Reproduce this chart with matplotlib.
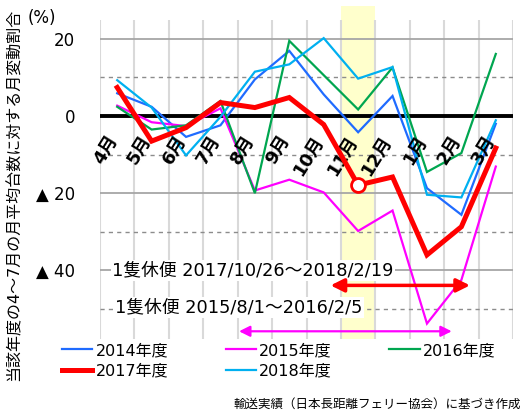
import numpy as np
import matplotlib
matplotlib.use('Agg')
import matplotlib.pyplot as plt
from matplotlib.lines import Line2D
from matplotlib.patches import Rectangle

plt.rcParams['font.family'] = ['DejaVu Sans', 'Noto Sans CJK JP']

# month categories (fiscal year order)
months = ['4月', '5月', '6月', '7月', '8月', '9月', '10月', '11月', '12月', '1月', '2月', '3月']

# monthly change ratio vs Apr-Jul average (%)
fy2014 = [5.9, 2.4, -5.4, -2.4, 9.5, 16.9, 5.6, -4.2, 5.2, -18.7, -25.6, -2.0]
fy2015 = [2.7, -1.6, -2.6, 2.0, -19.3, -16.5, -19.8, -29.8, -24.5, -53.8, -42.5, -13.1]
fy2016 = [2.4, -3.5, -2.4, 3.9, -20.0, 19.5, 10.6, 1.7, 12.6, -14.5, -9.6, 16.1]
fy2017 = [7.4, -6.5, -3.0, 3.5, 2.2, 4.8, -2.2, -17.9, -15.8, -36.0, -28.7, -8.3]
fy2018 = [9.3, 2.2, -10.2, -0.2, 11.5, 13.4, 20.2, 9.7, 12.7, -20.4, -21.1, -1.1]

series_names = ['2014年度', '2015年度', '2016年度', '2017年度', '2018年度']
series_vals = [fy2014, fy2015, fy2016, fy2017, fy2018]
series_cols = ['#1F6BFF', '#FF00FF', '#00A650', '#FF0000', '#00B0F0']
series_lw = [1.6, 1.6, 1.6, 3.6, 1.6]

ytick_vals = [-40, -20, 0, 20]
ytick_labels = ['▲ 40', '▲ 20', '0', '20']

# suspension periods (x in category units)
red_span = [6.2, 10.25]
mag_span = [3.54, 9.72]

fig = plt.figure(figsize=(5.24, 4.12), dpi=100)
ax = fig.add_axes([100/524, 1-339/412, 413/524, 319/412])

x = np.arange(len(months))
ax.set_xlim(-0.5, 11.5)
ax.set_ylim(-57.8, 24.9)

# highlight band for November
ax.add_patch(Rectangle((6.5, -57.8), 1, 86.3, facecolor='#FFFFCC', edgecolor='none',
                       zorder=0, clip_on=False))

# grid lines
for k in range(13):
    ax.axvline(k - 0.5, color='#D9D9D9', lw=1.5, zorder=1)
for yv in [20, -20, -40]:
    ax.axhline(yv, color='#A6A6A6', lw=1.3, zorder=1)
for yv in [10, -10, -30, -50]:
    ax.axhline(yv, color='#8C8C8C', lw=1.0, ls=(0, (3, 3)), zorder=1)
ax.axhline(0, color='black', lw=2.8, zorder=2)

# data lines
for name, vals, col, lw in zip(series_names, series_vals, series_cols, series_lw):
    z = 5 if name == '2017年度' else 3
    ax.plot(x, vals, color=col, lw=lw, zorder=z, solid_joinstyle='miter')

ax.plot(x[7], fy2017[7], 'o', ms=10, mfc='white', mec='red', mew=2, zorder=6)

# month labels inside the plot
for i, m in enumerate(months):
    ax.text(i + 0.12, -4.2, m, rotation=58, ha='right', va='top',
            fontsize=13, fontweight='bold', zorder=4)

# suspension texts and arrows
ax.text(-0.15, -40, '1隻休便 2017/10/26～2018/2/19', fontsize=12.8, va='center', ha='left',
        bbox=dict(facecolor='white', edgecolor='none', pad=1), zorder=2.5)
ax.text(-0.06, -49.6, '1隻休便 2015/8/1～2016/2/5', fontsize=12.8, va='center', ha='left',
        bbox=dict(facecolor='white', edgecolor='none', pad=1), zorder=2.5)
ax.annotate('', xy=(red_span[0], -43.9), xytext=(red_span[1], -43.9),
            arrowprops=dict(arrowstyle='<|-|>', color='red', lw=2.5, mutation_scale=20,
                            shrinkA=0, shrinkB=0), zorder=6)
ax.annotate('', xy=(mag_span[0], -55.8), xytext=(mag_span[1], -55.8),
            arrowprops=dict(arrowstyle='<|-|>', color='#FF00FF', lw=1.6, mutation_scale=16,
                            shrinkA=0, shrinkB=0), zorder=6)

ax.set_xticks([])
ax.set_yticks(ytick_vals)
ax.set_yticklabels(ytick_labels, fontsize=12)
ax.tick_params(axis='y', length=0, pad=18)
for s in ax.spines.values():
    s.set_visible(False)

fig.text(28/524, 1-18/412, '(%)', fontsize=12, va='center', ha='left')
fig.text(14/524, 1-195/412, '当該年度の4～7月の月平均台数に対する月変動割合', rotation=90,
         fontsize=11.5, va='center', ha='center')

# legend (column-major order to get rows 2014/2015/2016 and 2017/2018)
handles = [Line2D([], [], color=c, lw=lw) for c, lw in zip(series_cols, series_lw)]
order = [0, 3, 1, 4, 2]
fig.legend([handles[i] for i in order], [series_names[i] for i in order],
           ncol=3, loc='upper left', bbox_to_anchor=(62/524, 1-343/412), frameon=False,
           fontsize=11.5, handlelength=1.9, handletextpad=0.2, columnspacing=3.6,
           labelspacing=0.35, borderpad=0, borderaxespad=0)

fig.text(521/524, 1-404/412, '輸送実績（日本長距離フェリー協会）に基づき作成', fontsize=9,
         ha='right', va='center')

fig.savefig('out.png', dpi=100)
